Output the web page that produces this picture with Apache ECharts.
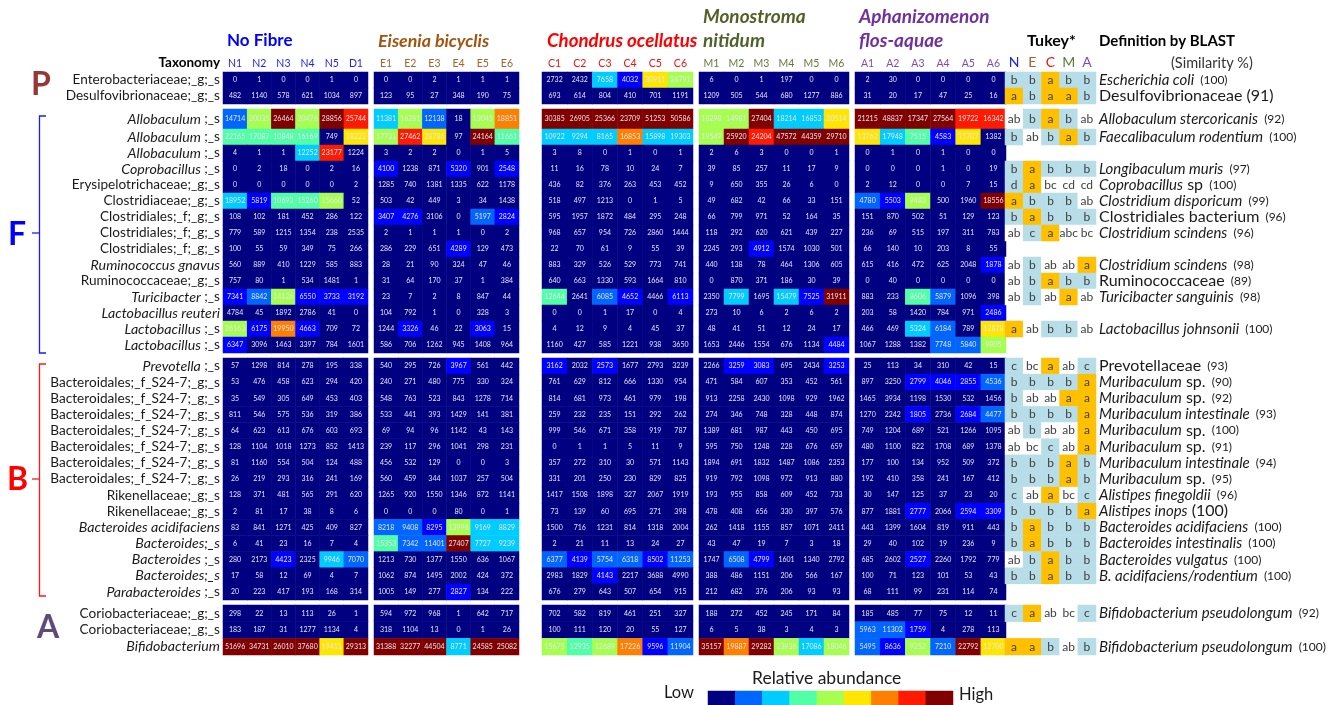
<!DOCTYPE html>
<html>
<head>
<meta charset="utf-8">
<title>Gut microbiota heatmap</title>
<script src="https://cdn.jsdelivr.net/npm/echarts@6/dist/echarts.min.js"></script>
<style>
html, body { margin: 0; padding: 0; background: #fff; }
#chart { width: 1337px; height: 705px; }
</style>
</head>
<body>
<div id="chart"></div>
<script>
// italic part | plain part
const taxonomy = [
  "|Enterobacteriaceae;_g;_s", "|Desulfovibrionaceae;_g;_s",
  "Allobaculum| ;_s", "Allobaculum| ;_s", "Allobaculum| ;_s", "Coprobacillus| ;_s",
  "|Erysipelotrichaceae;_g;_s", "|Clostridiaceae;_g;_s", "|Clostridiales;_f;_g;_s",
  "|Clostridiales;_f;_g;_s", "|Clostridiales;_f;_g;_s", "Ruminococcus gnavus|",
  "|Ruminococcaceae;_g;_s", "Turicibacter| ;_s", "Lactobacillus reuteri|",
  "Lactobacillus| ;_s", "Lactobacillus| ;_s",
  "Prevotella| ;_s", "|Bacteroidales;_f_S24-7;_g;_s", "|Bacteroidales;_f_S24-7;_g;_s",
  "|Bacteroidales;_f_S24-7;_g;_s", "|Bacteroidales;_f_S24-7;_g;_s", "|Bacteroidales;_f_S24-7;_g;_s",
  "|Bacteroidales;_f_S24-7;_g;_s", "|Bacteroidales;_f_S24-7;_g;_s", "|Rikenellaceae;_g;_s",
  "|Rikenellaceae;_g;_s", "Bacteroides acidifaciens|", "Bacteroides;_s|", "Bacteroides| ;_s",
  "Bacteroides;_s|", "Parabacteroides| ;_s",
  "|Coriobacteriaceae;_g;_s", "|Coriobacteriaceae;_g;_s", "Bifidobacterium|"
];

// italic part | plain part | similarity
const definitions = [
  "Escherichia coli||(100)", "|Desulfovibrionaceae (91)|",
  "Allobaculum stercoricanis||(92)", "Faecalibaculum rodentium||(100)", "||",
  "Longibaculum muris||(97)", "Coprobacillus| sp|(100)", "Clostridium disporicum||(99)",
  "|Clostridiales bacterium|(96)", "Clostridium scindens||(96)", "||",
  "Clostridium scindens||(98)", "|Ruminococcaceae|(89)", "Turicibacter sanguinis||(98)", "||",
  "Lactobacillus johnsonii||(100)", "||",
  "|Prevotellaceae|(93)", "Muribaculum| sp.|(90)", "Muribaculum| sp.|(92)",
  "Muribaculum intestinale||(93)", "Muribaculum| sp.|(100)", "Muribaculum| sp.|(91)",
  "Muribaculum intestinale||(94)", "Muribaculum| sp.|(95)", "Alistipes finegoldii||(96)",
  "Alistipes inops| (100)|", "Bacteroides acidifaciens||(100)", "Bacteroides intestinalis||(100)",
  "Bacteroides vulgatus||(100)", "B. acidifaciens/rodentium||(100)", "||",
  "Bifidobacterium pseudolongum||(92)", "||", "Bifidobacterium pseudolongum||(100)"
];

const valuesN = [
  [0,1,0,0,1,0],[482,1140,578,621,1034,897],
  [14714,20035,26464,20476,28856,25744],[22165,17087,10848,16169,749,18222],[4,1,1,12252,23177,1224],
  [0,2,18,0,2,16],[0,0,0,0,0,2],[18952,5819,10693,15260,15660,52],[108,102,181,452,286,122],
  [779,589,1215,1354,238,2535],[100,55,59,349,75,266],[560,889,410,1229,585,883],[757,80,1,534,1481,1],
  [7341,8842,14126,6550,3733,3192],[4784,45,1892,2786,41,0],[26163,6175,19950,4663,709,72],[6347,3096,1463,3397,784,1601],
  [57,1298,814,278,195,338],[53,476,458,623,294,420],[35,549,305,649,453,403],[811,546,575,536,319,386],
  [64,623,613,676,603,693],[128,1104,1018,1273,852,1413],[81,1160,554,504,124,488],[26,219,293,316,241,169],
  [128,371,481,565,291,620],[2,81,17,38,8,6],[83,841,1271,425,409,827],[6,41,23,16,7,4],
  [280,2173,4423,2325,9946,7070],[17,58,12,69,4,7],[20,223,417,193,168,314],
  [298,22,13,113,26,1],[183,187,31,1277,1134,4],[51696,34731,26010,37680,19411,29313]
];
const valuesE = [
  [0,0,2,1,1,1],[123,95,27,348,190,75],
  [11381,16281,12138,18,13045,18851],[17731,27462,28786,97,24164,11661],[3,2,2,0,1,5],
  [4100,1238,871,5320,901,2548],[1285,740,1381,1335,622,1178],[503,42,449,3,34,1438],[3407,4276,3106,0,5197,2824],
  [2,1,1,1,0,2],[286,229,651,4289,129,473],[28,21,90,324,47,46],[31,64,170,37,1,384],
  [23,7,2,8,847,44],[104,792,1,0,328,3],[1244,3326,46,22,3063,15],[586,706,1262,945,1408,964],
  [540,295,726,3967,561,442],[240,271,480,775,330,324],[548,763,523,843,1278,714],[533,441,393,1429,141,381],
  [69,94,96,1142,43,143],[239,117,296,1041,298,231],[456,532,129,0,0,3],[560,459,344,1037,257,504],
  [1265,920,1550,1346,872,1141],[0,0,0,80,0,1],[8218,9408,8295,13996,9169,8829],[15353,7342,11401,27407,7727,9239],
  [1213,730,1377,1550,636,1067],[1062,874,1495,2002,424,372],[1005,149,277,2827,134,222],
  [594,972,968,1,642,717],[318,1104,13,0,1,26],[31388,32277,44504,8771,24585,25082]
];
const valuesC = [
  [2732,2432,7658,4032,30911,26791],[693,614,804,410,701,1191],
  [30385,26905,25366,23709,51253,50586],[10922,9294,8165,16853,15898,19303],[3,8,0,1,0,1],
  [11,16,78,10,24,7],[436,82,376,263,453,452],[518,497,1213,0,1,5],[595,1957,1872,484,295,248],
  [968,657,954,726,2860,1444],[22,70,61,9,55,39],[883,329,526,529,773,741],[640,663,1330,593,1664,810],
  [12644,2641,6085,4652,4466,6113],[0,0,1,17,0,4],[4,12,9,4,45,37],[1160,427,585,1221,938,3650],
  [3162,2032,2573,1677,2793,3239],[761,629,812,666,1330,954],[814,681,973,461,979,198],[259,232,235,151,292,262],
  [999,546,671,358,919,787],[0,1,1,5,11,9],[357,272,310,30,571,1143],[331,201,250,230,829,825],
  [1417,1508,1898,327,2067,1919],[73,139,60,695,271,398],[1500,716,1231,814,1318,2004],[2,21,11,13,24,27],
  [6377,4139,5754,6318,8502,11253],[2983,1829,4143,2217,3688,4990],[676,279,643,507,654,915],
  [702,582,819,461,251,327],[100,111,120,20,55,127],[15675,12935,12689,17226,9596,11904]
];
const valuesM = [
  [6,0,1,197,0,0],[1209,505,544,680,1277,886],
  [18298,14981,27404,18214,16853,20514],[19549,25920,24204,47572,44359,29710],[2,6,3,0,0,1],
  [39,85,257,11,17,9],[9,650,355,26,6,0],[49,682,42,66,33,151],[66,799,971,52,164,35],
  [118,292,620,621,439,227],[2245,293,4912,1574,1030,501],[440,138,78,464,1306,605],[0,870,371,186,30,39],
  [2350,7799,1695,15479,7525,31911],[273,10,6,2,6,2],[48,41,51,12,24,17],[1653,2446,1554,676,1134,4484],
  [2266,3259,3083,695,2434,3253],[471,584,607,353,452,561],[913,2258,2430,1098,929,1962],[274,346,748,328,448,874],
  [1389,681,987,443,450,695],[595,750,1248,228,676,659],[1894,691,1832,1487,1086,2353],[919,792,1098,972,913,880],
  [193,955,858,609,452,733],[478,408,656,330,397,576],[262,1418,1155,857,1071,2411],[43,47,19,7,3,18],
  [1747,6508,4799,1601,1340,2792],[388,486,1151,206,566,167],[212,682,376,206,93,93],
  [188,272,452,245,171,84],[6,5,38,3,4,3],[35157,19887,29282,23936,17086,18046]
];
const valuesA = [
  [2,30,0,0,0,0],[31,20,17,47,25,16],
  [21215,48837,17347,27564,19722,16342],[13762,17948,7515,4583,15707,1382],[0,1,0,1,0,0],
  [0,0,0,1,0,19],[2,12,0,0,7,15],[4780,5503,9483,500,1960,18556],[151,870,502,51,129,123],
  [236,69,515,197,311,783],[66,140,10,203,8,55],[615,416,472,625,2048,1878],[0,40,0,0,0,0],
  [883,233,8606,5879,1096,398],[203,58,1420,784,971,2486],[466,469,5324,6184,789,12878],[1067,1288,1382,7748,5840,9805],
  [25,113,34,310,42,15],[897,3250,2799,4046,2855,4536],[1465,3934,1198,1530,532,1456],[1270,2242,1805,2736,2684,4477],
  [749,1204,689,521,1266,1095],[480,1100,822,1708,689,1378],[177,100,134,952,509,372],[192,410,358,241,167,412],
  [30,147,125,37,23,20],[877,1881,2777,2066,2594,3309],[443,1399,1604,819,911,443],[29,40,102,19,236,9],
  [685,2602,2527,2260,1792,779],[100,71,123,101,53,43],[68,111,99,231,114,74],
  [185,485,77,75,12,11],[5963,11302,1759,4,278,113],[5495,8636,9252,7210,22792,12700]
];

// colour class of each cell, row index -> classes; rows left out are all class 0
const levelsN = {2:[2,5,9,5,9,8],3:[4,4,4,4,0,6],4:[0,0,0,3,8,0],7:[3,1,4,4,5,0],13:[1,2,5,1,1,1],15:[5,1,7,1,0,0],16:[1,0,0,0,0,0],29:[0,0,1,0,3,2],34:[9,9,9,9,6,9]};
const levelsE = {2:[3,5,2,0,5,7],3:[5,8,6,0,9,4],5:[1,0,0,1,0,1],8:[1,1,0,0,2,1],10:[0,0,0,1,0,0],15:[0,1,0,0,1,0],17:[0,0,0,1,0,0],27:[2,2,1,5,3,3],28:[4,2,2,9,3,3],31:[0,0,0,1,0,0],34:[9,9,9,3,9,9]};
const levelsC = {0:[0,0,3,1,6,5],2:[9,9,9,9,9,9],3:[3,3,3,7,3,3],13:[4,0,2,1,0,1],17:[1,0,1,0,0,0],29:[2,1,2,2,1,2],30:[0,0,1,0,0,0],34:[5,4,5,7,1,2]};
const levelsM = {2:[5,5,9,3,3,6],3:[5,9,8,9,9,9],10:[0,0,1,0,0,0],13:[0,3,0,3,1,9],16:[0,0,0,0,0,1],17:[0,1,1,0,0,1],29:[0,2,1,0,0,0],34:[9,7,9,5,3,5]};
const levelsA = {2:[9,9,9,9,8,8],3:[6,3,4,1,6,0],7:[2,1,5,0,0,9],11:[0,0,0,0,0,1],13:[0,0,4,2,0,0],14:[0,0,0,0,0,1],15:[0,0,3,2,0,6],16:[0,0,0,2,2,5],18:[0,0,1,1,1,2],20:[0,0,1,0,1,2],26:[0,0,1,0,1,1],29:[0,0,1,0,0,0],33:[2,2,1,0,0,0],34:[2,1,5,2,9,6]};

const tukey = [
  "b b a b b","a b a a b",
  "ab b a b ab","b ab b a b","","b a b b b","d a bc cd cd","a b b b ab","b a b b b","ab c a abc bc","",
  "ab b ab ab a","ab b a b b","ab b ab a ab","","a ab b b ab","",
  "c bc a ab c","b b b b a","b ab ab a a","b b b b a","ab b ab ab a","ab bc c ab a","b b b a b","b b b a b",
  "c ab a bc c","b b b b a","b a b b b","b a b b b","ab b a b b","b b a b b","",
  "c a ab bc c","","a a b ab b"
];

const labelsN = ["N1","N2","N3","N4","N5","D1"];
const labelsE = ["E1","E2","E3","E4","E5","E6"];
const labelsC = ["C1","C2","C3","C4","C5","C6"];
const labelsM = ["M1","M2","M3","M4","M5","M6"];
const labelsA = ["A1","A2","A3","A4","A5","A6"];
const labelsTukey = ["N","E","C","M","A"];
const tukeyColors = ["#1f1fe8","#a5622d","#f01010","#5f7a3a","#7d4cb5"];
const legendLevels = [0,2,3,4,5,6,7,8,9];

const FONT = "Lato";
// 0-9 heat classes, 10-12 Tukey fills
const palette = ["#000080","#0000ff","#0066ff","#00ccff","#50ffa6","#a6ff50","#ffe600","#ff8000","#ff1a00","#800000","#ffc000","#b7dde8","#ffffff"];

const panels = [
  {labels: labelsN, values: valuesN, levels: levelsN, left: 223, width: 145, color: tukeyColors[0]},
  {labels: labelsE, values: valuesE, levels: levelsE, left: 374, width: 145, color: tukeyColors[1]},
  {labels: labelsC, values: valuesC, levels: levelsC, left: 542, width: 151, color: tukeyColors[2]},
  {labels: labelsM, values: valuesM, levels: levelsM, left: 699, width: 150, color: tukeyColors[3]},
  {labels: labelsA, values: valuesA, levels: levelsA, left: 855, width: 151, color: tukeyColors[4]}
];
const blocks = [
  {first: 0, count: 2, top: 72, height: 32},
  {first: 2, count: 1, top: 109, height: 20},
  {first: 3, count: 14, top: 129, height: 224},
  {first: 17, count: 15, top: 358, height: 242},
  {first: 32, count: 3, top: 605, height: 50}
];

let grid = [], xAxis = [], yAxis = [], series = [];

function addGrid(left, top, width, height, xData, yData, xLabel, yLabel) {
  // long labels run to the page edge, keep the grid where it was put
  grid.push({left: left, top: top, width: width, height: height, outerBoundsMode: 'none'});
  let i = grid.length - 1;
  xAxis.push(Object.assign({
    gridIndex: i, type: 'category', data: xData, position: 'top',
    axisLine: {show: false}, axisTick: {show: false}, splitLine: {show: false}
  }, xLabel ? {axisLabel: xLabel} : {axisLabel: {show: false}}));
  yAxis.push(Object.assign({
    gridIndex: i, type: 'category', data: yData, inverse: true,
    axisLine: {show: false}, axisTick: {show: false}, splitLine: {show: false}
  }, yLabel || {axisLabel: {show: false}}));
  return i;
}

function taxonomyLabel(text) {
  let parts = text.split('|');
  return (parts[0] ? '{i|' + parts[0] + '}' : '') + (parts[1] ? '{n|' + parts[1] + '}' : '');
}

function definitionLabel(text) {
  let parts = text.split('|');
  return (parts[0] ? '{i|' + parts[0] + '}' : '') + (parts[1] ? '{n|' + parts[1] + '}' : '')
    + (parts[2] ? '{s|  ' + parts[2] + '}' : '');
}

const taxonomyRich = {
  i: {fontFamily: FONT, fontStyle: 'italic', fontSize: 14.2, color: '#1a1a1a'},
  n: {fontFamily: FONT, fontSize: 13.6, color: '#1a1a1a'}
};
const definitionRich = {
  i: {fontFamily: FONT, fontStyle: 'italic', fontSize: 15, color: '#1a1a1a'},
  n: {fontFamily: FONT, fontSize: 16, color: '#1a1a1a'},
  s: {fontFamily: FONT, fontSize: 12, color: '#1a1a1a'}
};

blocks.forEach((block, b) => {
  let rows = taxonomy.slice(block.first, block.first + block.count);

  panels.forEach((panel, p) => {
    let xLabel = b === 0 ? {show: true, interval: 0, margin: 3, fontFamily: FONT, fontSize: 10.5, color: panel.color} : null;
    let yLabel = p === 0 ? {
      position: 'left',
      axisLabel: {show: true, interval: 0, margin: 3, align: 'right', formatter: taxonomyLabel, rich: taxonomyRich}
    } : null;
    let g = addGrid(panel.left, block.top, panel.width, block.height, panel.labels, rows, xLabel, yLabel);

    let data = [];
    for (let r = 0; r < block.count; r++) {
      let row = block.first + r;
      let levels = panel.levels[row] || [0,0,0,0,0,0];
      panel.values[row].forEach((v, c) => data.push([c, r, v, levels[c]]));
    }
    series.push({
      type: 'heatmap', xAxisIndex: g, yAxisIndex: g, data: data, silent: true, progressive: 0,
      label: {show: true, fontFamily: FONT, fontSize: 7, color: '#e6e6f2', formatter: q => String(q.data[2])}
    });
  });

  // Tukey letters, definitions on the right axis
  let g = addGrid(1005, block.top, 91, block.height, labelsTukey,
    definitions.slice(block.first, block.first + block.count),
    null,
    {
      position: 'right',
      axisLabel: {show: true, interval: 0, margin: 3, align: 'left', formatter: definitionLabel, rich: definitionRich}
    });
  let data = [];
  for (let r = 0; r < block.count; r++) {
    let row = block.first + r;
    if (!tukey[row]) continue;
    tukey[row].split(' ').forEach((letters, c) => {
      let fill = letters === 'a' ? 10 : (letters.length === 1 ? 11 : 12);
      data.push([c, r, row, fill]);
    });
  }
  series.push({
    type: 'heatmap', xAxisIndex: g, yAxisIndex: g, data: data, silent: true, progressive: 0,
    label: {
      show: true, fontFamily: FONT, fontSize: 12, color: '#404040',
      formatter: q => tukey[q.data[2]].split(' ')[q.data[0]]
    }
  });
});

// column letters above the Tukey block
let headerGrid = addGrid(1005, 72, 91, 1, labelsTukey, [''], null, null);
xAxis[headerGrid].axisLabel = {
  show: true, interval: 0, margin: 3, fontFamily: FONT, fontSize: 14,
  formatter: (v, i) => '{c' + i + '|' + v + '}',
  rich: Object.fromEntries(tukeyColors.map((c, i) => ['c' + i, {color: c, fontFamily: FONT, fontSize: 14}]))
};

// colour key
let legendGrid = addGrid(708, 691, 245, 14, legendLevels.map(String), [''], null, null);
series.push({
  type: 'heatmap', xAxisIndex: legendGrid, yAxisIndex: legendGrid, silent: true, progressive: 0,
  data: legendLevels.map((level, i) => [i, 0, 0, level])
});

function note(text, x, y, size, color, extra) {
  return {
    type: 'text', x: x, y: y, silent: true,
    style: Object.assign({
      text: text, fontFamily: FONT, fontSize: size, fill: color, fontWeight: 'bold',
      verticalAlign: 'middle', align: 'left'
    }, extra || {})
  };
}

function bracket(top, mid, bottom, color) {
  return [
    {type: 'polyline', silent: true, shape: {points: [[46, top], [39.5, top], [39.5, bottom], [46, bottom]]},
     style: {stroke: color, fill: null, lineWidth: 1.3}},
    {type: 'line', silent: true, shape: {x1: 32, y1: mid, x2: 39.5, y2: mid}, style: {stroke: color, lineWidth: 1.3}}
  ];
}

const graphics = [
  note('No Fibre', 227, 41, 17, '#0000ff'),
  note('Eisenia bicyclis', 378, 41, 17.8, '#a5540f', {fontStyle: 'italic'}),
  note('Chondrus ocellatus', 547, 41, 18.7, '#ff0000', {fontStyle: 'italic'}),
  note('Monostroma', 703, 17, 19, '#4f6228', {fontStyle: 'italic'}),
  note('nitidum', 703, 41, 19, '#4f6228', {fontStyle: 'italic'}),
  note('Aphanizomenon', 859, 17, 19, '#7030a0', {fontStyle: 'italic'}),
  note('flos-aquae', 859, 41, 19, '#7030a0', {fontStyle: 'italic'}),
  note('Taxonomy', 220, 63, 13.5, '#000000', {align: 'right'}),
  note('Tukey*', 1027, 41, 16, '#000000'),
  note('Definition by BLAST', 1099, 41, 15, '#000000'),
  note('(Similarity %)', 1171, 63, 14.5, '#333333', {fontWeight: 'normal'}),
  note('P', 31, 85, 32, '#953735'),
  note('F', 8, 235, 32, '#0000ff'),
  note('B', 7, 480, 32, '#ff0000'),
  note('A', 37, 628, 32, '#604a7b'),
  note('Relative abundance', 752, 678, 17.5, '#1a1a1a', {fontWeight: 'normal'}),
  note('Low', 664, 693, 16.5, '#1a1a1a', {fontWeight: 'normal'}),
  note('High', 959, 695, 16.5, '#1a1a1a', {fontWeight: 'normal'})
].concat(bracket(116, 233, 353, '#1a1aff'), bracket(364, 479, 596, '#ff1a1a'));

const chart = echarts.init(document.getElementById('chart'));
chart.setOption({
  animation: false,
  backgroundColor: '#ffffff',
  textStyle: {fontFamily: FONT},
  grid: grid,
  xAxis: xAxis,
  yAxis: yAxis,
  visualMap: {
    type: 'piecewise', show: false, dimension: 3,
    pieces: palette.map((c, i) => ({value: i, color: c}))
  },
  series: series,
  graphic: graphics
});
window.onresize = () => chart.resize();
</script>
</body>
</html>
